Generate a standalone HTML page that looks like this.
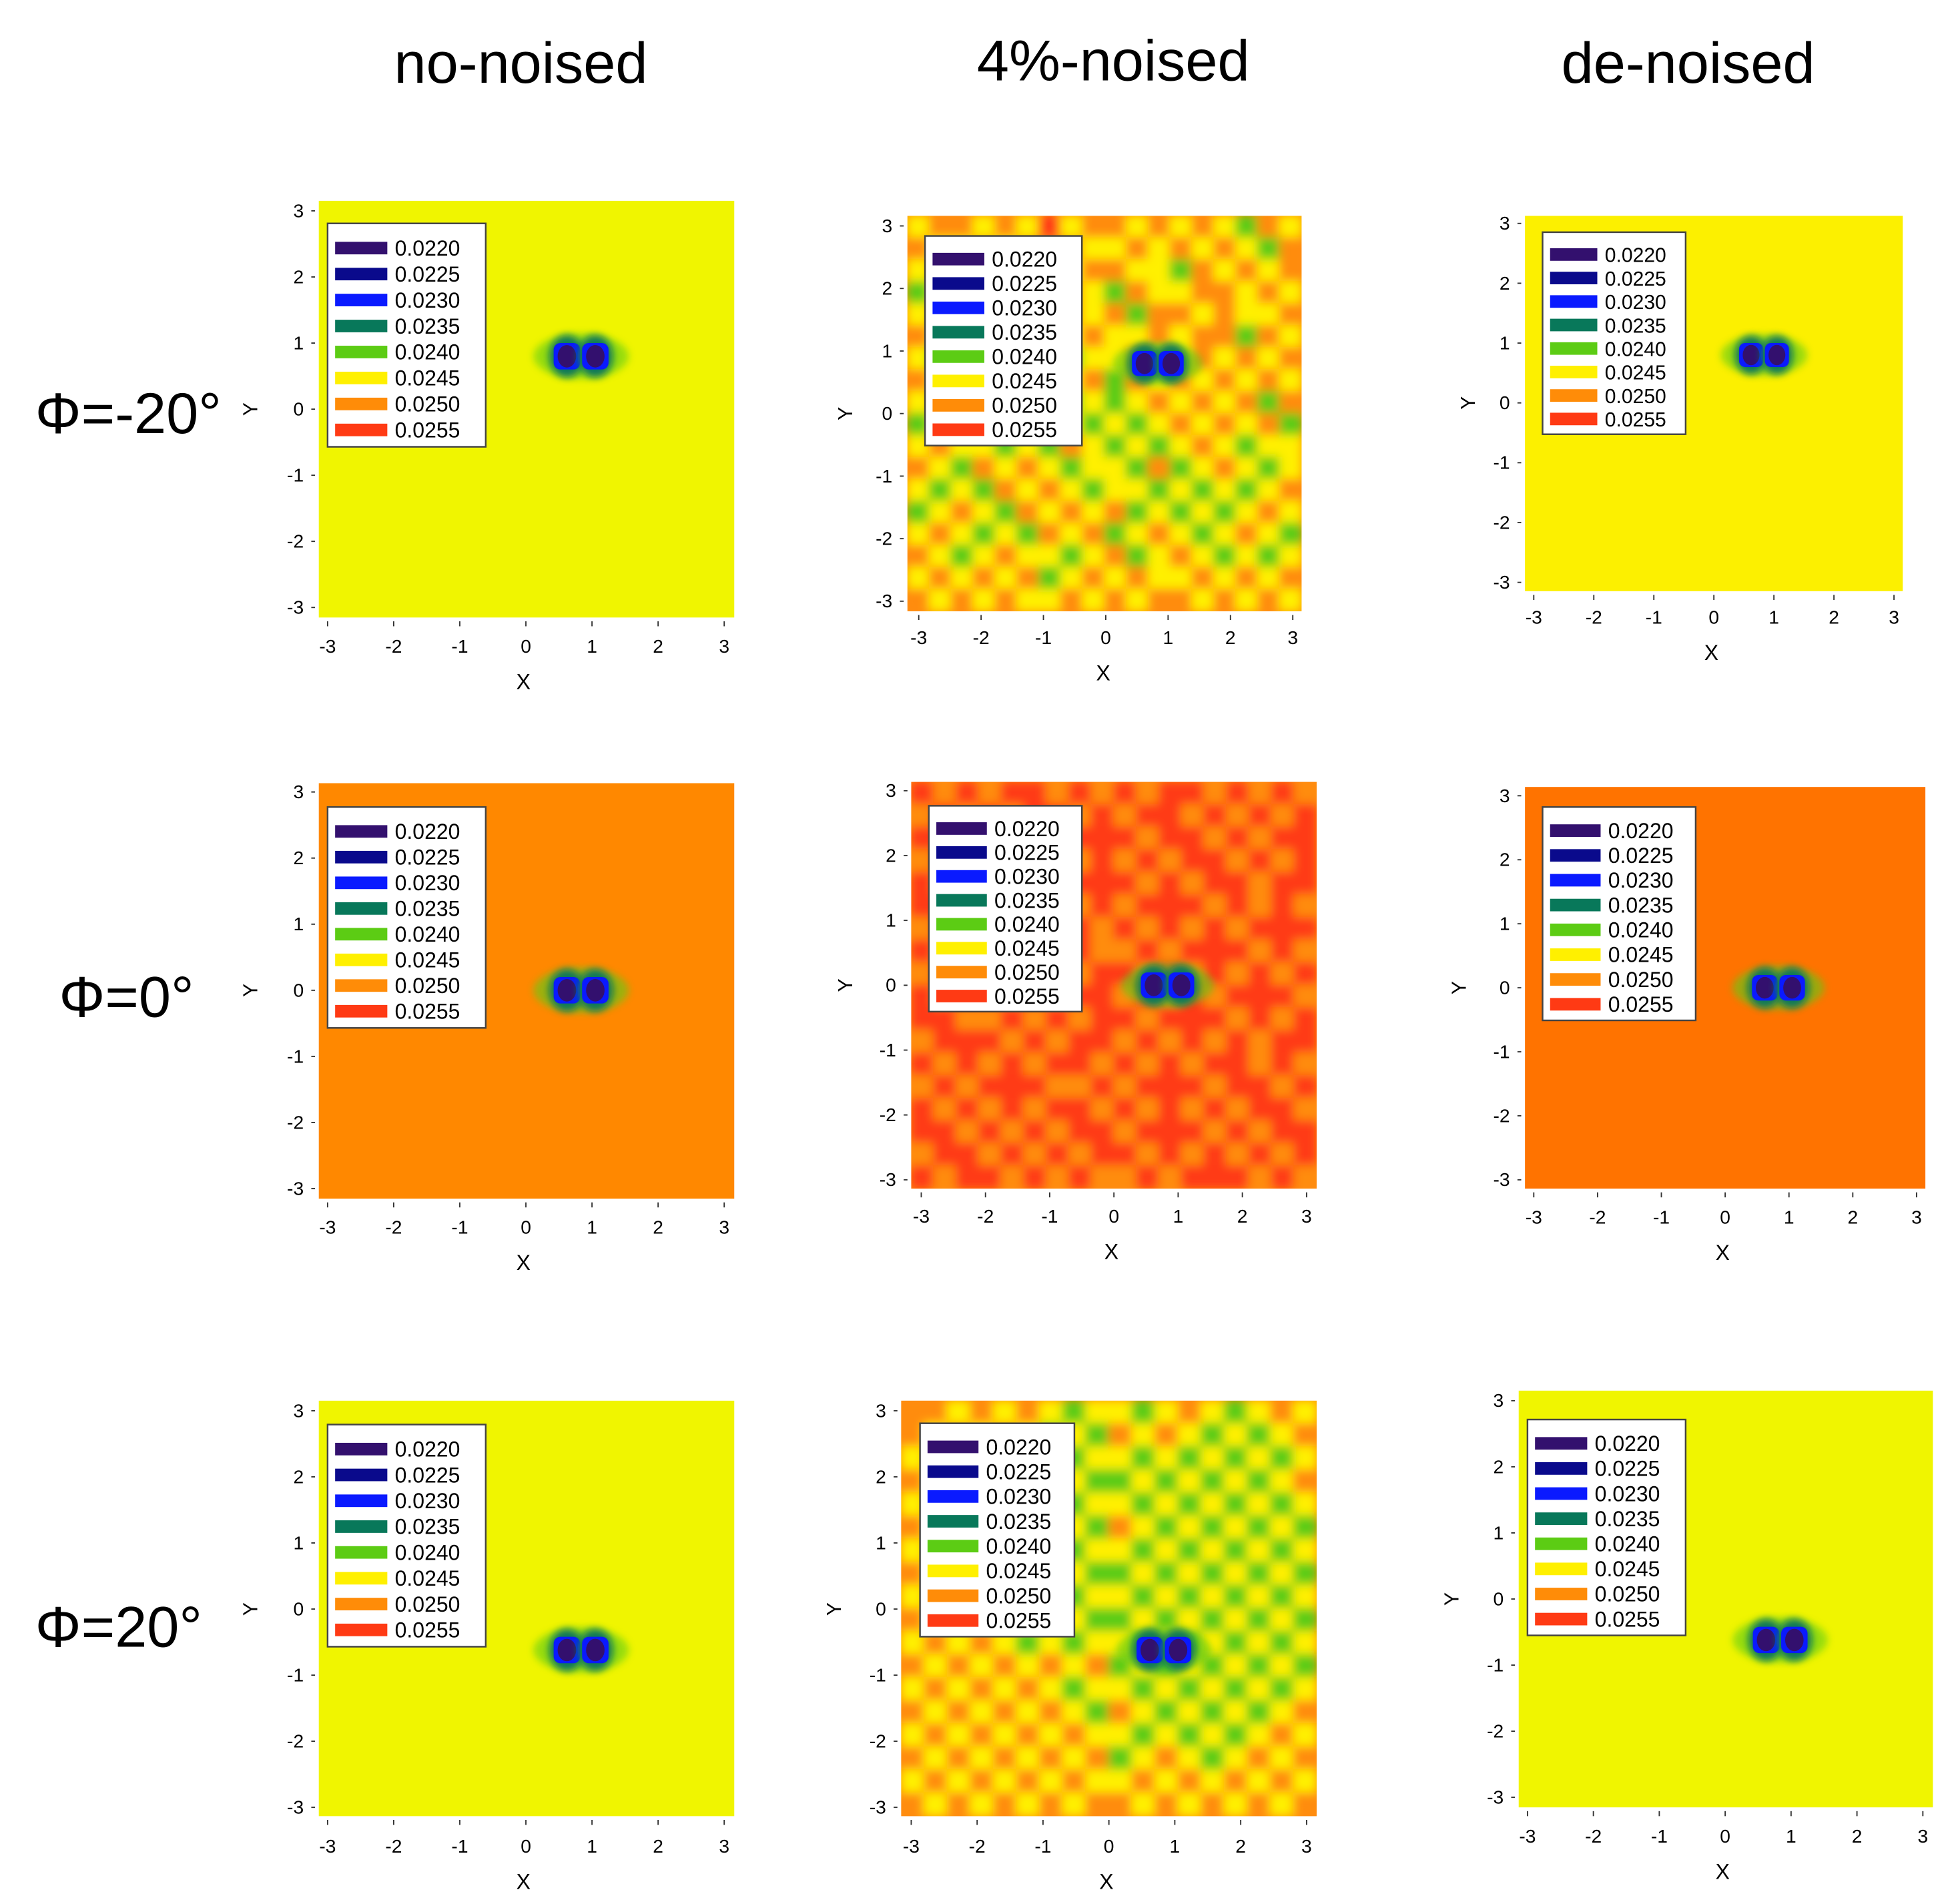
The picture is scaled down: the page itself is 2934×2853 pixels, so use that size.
<!DOCTYPE html>
<html><head><meta charset="utf-8"><style>
html,body{margin:0;padding:0;background:#fff;}
svg{display:block;font-family:"Liberation Sans",sans-serif;}
</style></head><body>
<svg id="fig" width="2934" height="2853" viewBox="0 0 1560 1517" preserveAspectRatio="none" xmlns="http://www.w3.org/2000/svg">
<defs>
<filter id="blur" x="0" y="0" width="1" height="1"><feGaussianBlur stdDeviation="4"/></filter>
<filter id="soft" x="-50%" y="-50%" width="200%" height="200%"><feGaussianBlur stdDeviation="3"/></filter>
</defs>
<text x="415" y="66" font-size="46" text-anchor="middle">no-noised</text>
<text x="887" y="64" font-size="46" text-anchor="middle">4%-noised</text>
<text x="1345" y="66" font-size="46" text-anchor="middle">de-noised</text>
<text x="28" y="345" font-size="46">Φ=-20°</text>
<text x="47" y="810" font-size="46">Φ=0°</text>
<text x="28" y="1312" font-size="46">Φ=20°</text>
</svg>
<script>
const levels = ["0.0220","0.0225","0.0230","0.0235","0.0240","0.0245","0.0250","0.0255"];
const levelColors = ["#33106e","#0a0a8c","#0a1aff","#08785a","#5ccc14","#fff000","#ff8c08","#ff3a14"];
const ticks = [-3,-2,-1,0,1,2,3];
const dipoleX = [0.62, 1.05];
const dipoleY = [0.8, 0.0, -0.62];
const noiseRow1 = ["566565756656565465","655656665565656546","565465756655465656","456556665465566565","565645565646656556","656554456556566465","546565545565565656","655454456465656565","564545545456565646","456454654545656564","565545465454565455","654656545546456545","545465654554545456","456546565645454565","565454656456545654","654565545645654545","565656456565565656","656565565656656565"];
const noiseRow2 = ["767677676767767676","676767767677676767","777676677767767677","676777767676776767","767675677767677677","776767767677767676","677677676767676777","767767776676777676","677676767767676767","767767677676767776","776676767767776767","677767677676767677","767676776767677676","676777667677767767","767676776767676776","776767677677767677","677676767767676767","767767676676777676"];
const noiseRow3 = ["665656545545654565","656565454656545456","565654545545454545","656545454454545456","565656545545454545","656565454654545454","565654545545454545","656565454454545454","565656545545454545","656565454454545454","565654545545454545","656565656454545454","565656545545454545","656565654654545456","565656565545454565","656565656456545656","565656565565656565","656565656656565656"];
const bgColors = ["#f0f500","#ff8800","#f0f500"];
const denoisedBg = ["#fcf000","#ff7300","#f0f500"];
const panels = [
 {r:0,c:0,px:254,py:160,pw:331,ph:332,xa:261,xb:577,ya:168,yb:484,lx:261,ly:178,lw:126,lh:178,xl:514,Y:205,type:"clean"},
 {r:0,c:1,px:723,py:172,pw:314,ph:315,xa:732,xb:1030,ya:180,yb:479,lx:737,ly:188,lw:125,lh:167,xl:507,Y:679,type:"noise"},
 {r:0,c:2,px:1215,py:172,pw:301,ph:299,xa:1222,xb:1509,ya:178,yb:464,lx:1229,ly:185,lw:114,lh:161,xl:491,Y:1175,type:"den"},
 {r:1,c:0,px:254,py:624,pw:331,ph:331,xa:261,xb:577,ya:631,yb:947,lx:261,ly:643,lw:126,lh:176,xl:977,Y:205,type:"clean"},
 {r:1,c:1,px:726,py:623,pw:323,ph:324,xa:734,xb:1041,ya:630,yb:940,lx:740,ly:642,lw:122,lh:164,xl:968,Y:679,type:"noise"},
 {r:1,c:2,px:1215,py:627,pw:319,ph:320,xa:1222,xb:1527,ya:634,yb:940,lx:1229,ly:643,lw:122,lh:170,xl:969,Y:1168,type:"den"},
 {r:2,c:0,px:254,py:1116,pw:331,ph:331,xa:261,xb:577,ya:1124,yb:1440,lx:261,ly:1135,lw:126,lh:177,xl:1470,Y:205,type:"clean"},
 {r:2,c:1,px:718,py:1116,pw:331,ph:331,xa:726,xb:1041,ya:1124,yb:1440,lx:733,ly:1134,lw:123,lh:170,xl:1470,Y:670,type:"noise"},
 {r:2,c:2,px:1210,py:1108,pw:330,ph:332,xa:1217,xb:1532,ya:1116,yb:1432,lx:1217,ly:1131,lw:126,lh:172,xl:1462,Y:1162,type:"den"}
];
const NS="http://www.w3.org/2000/svg";
const svg=document.getElementById('fig');
function mk(tag,attrs,parent){const e=document.createElementNS(NS,tag);for(const k in attrs)e.setAttribute(k,attrs[k]);(parent||svg).appendChild(e);return e;}
const noiseSets=[noiseRow1,noiseRow2,noiseRow3];
panels.forEach((p,i)=>{
 const sx=v=>p.xa+(v+3)/6*(p.xb-p.xa);
 const sy=v=>p.yb-(v+3)/6*(p.yb-p.ya);
 const g=mk('g',{});
 
 
 const cid='clip'+i;
 const cp=mk('clipPath',{id:cid},g);mk('rect',{x:p.px,y:p.py,width:p.pw,height:p.ph},cp);
 const bg=p.type==="clean"?bgColors[p.r]:(p.type==="den"?denoisedBg[p.r]:levelColors[6]);
 const plot=mk('rect',{x:p.px,y:p.py,width:p.pw,height:p.ph,fill:bg},g);
 
 
 const hg=mk('g',{'clip-path':'url(#'+cid+')'},g);
 if(p.type==="noise"){
  const grid=noiseSets[p.r];const n=grid.length;const m=grid[0].length;
  const bl=mk('g',{filter:'url(#blur)'},hg);
  const cw=p.pw/m, ch=p.ph/n;
  for(let r=0;r<n;r++)for(let c=0;c<m;c++){
   const cell=mk('rect',{x:p.px+c*cw-0.5,y:p.py+r*ch-0.5,width:cw+1,height:ch+1,fill:levelColors[+grid[r][c]]},bl);
   
   
  }
 }
 const dy=sy(dipoleY[p.r]);const unit=(p.xb-p.xa)/6;
 const dg=mk('g',{},hg);
 
 
 const mx=(sx(dipoleX[0])+sx(dipoleX[1]))/2;
 mk('ellipse',{cx:mx,cy:dy,rx:unit*0.72,ry:unit*0.34,fill:levelColors[4],opacity:0.6,filter:'url(#soft)'},dg);
 dipoleX.forEach(xv=>{
  mk('ellipse',{cx:sx(xv),cy:dy,rx:unit*0.27,ry:unit*0.32,fill:levelColors[3],filter:'url(#soft)'},dg);
  mk('rect',{x:sx(xv)-unit*0.2,y:dy-unit*0.2,width:unit*0.4,height:unit*0.4,rx:unit*0.1,fill:levelColors[2]},dg);
  mk('ellipse',{cx:sx(xv),cy:dy,rx:unit*0.14,ry:unit*0.17,fill:levelColors[0]},dg);
 });
 ticks.forEach(t=>{
  const x=sx(t);
  mk('line',{x1:x,y1:p.py+p.ph+3,x2:x,y2:p.py+p.ph+7,stroke:'#333','stroke-width':1},g);
  const tl=mk('text',{x:x,y:p.xl+6,'font-size':15,'text-anchor':'middle'},g);tl.textContent=t;
  
  
  const y=sy(t);
  mk('line',{x1:p.px-6,y1:y,x2:p.px-3,y2:y,stroke:'#333','stroke-width':1},g);
  const yl=mk('text',{x:p.px-12,y:y+5,'font-size':15,'text-anchor':'end'},g);yl.textContent=t;
  
  
 });
 const xt=mk('text',{x:sx(0)-2,y:p.xl+35,'font-size':17,'text-anchor':'middle'},g);xt.textContent='X';
 
 
 const yt=mk('text',{x:p.Y,y:sy(0),'font-size':16,'text-anchor':'middle',transform:'rotate(-90 '+p.Y+' '+sy(0)+')'},g);yt.textContent='Y';
 
 
 const lg=mk('g',{},g);
 
 
 mk('rect',{x:p.lx,y:p.ly,width:p.lw,height:p.lh,fill:'#fff',stroke:'#444','stroke-width':1.3},lg);
 const step=p.lh/8.6;
 levels.forEach((lv,k)=>{
  const yy=p.ly+step*0.95+k*step;
  const sw=mk('rect',{x:p.lx+6,y:yy-5,width:p.lw*0.33,height:10,fill:levelColors[k]},lg);
  
  
  const lt=mk('text',{x:p.lx+p.lw*0.33+12,y:yy+6,'font-size':p.lw>120?17:16},lg);lt.textContent=lv;
  
  
 });
});
</script>
</body></html>
